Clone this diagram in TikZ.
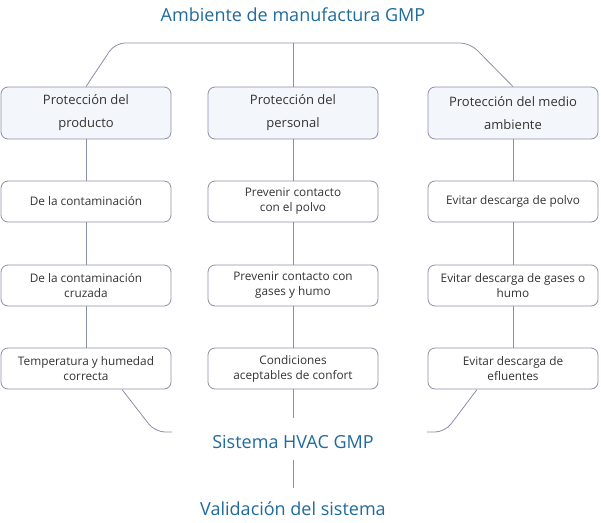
\documentclass[tikz,border=0pt]{standalone}
\usepackage{fontspec}
\setmainfont{Open Sans}
\definecolor{ln}{HTML}{8C8FA8}
\definecolor{hd}{HTML}{F3F6FA}
\definecolor{tb}{HTML}{1F6A9E}
\definecolor{tx}{HTML}{333333}
\begin{document}
\begin{tikzpicture}[x=1pt,y=-1pt,
  bx/.style={draw=ln,line width=0.8pt,rounded corners=7pt,minimum width=170pt,minimum height=41pt,inner sep=1pt,align=center,font=\fontsize{11.8}{15}\selectfont,text=tx},
  hbox/.style={bx,fill=hd,minimum height=52pt,font=\fontsize{13}{23}\selectfont},
  ttl/.style={text=tb,font=\fontsize{18}{20}\selectfont},
  cn/.style={draw=ln,line width=0.8pt}]
\useasboundingbox (0,0) rectangle (601,522);
\node[ttl] (top) at (293,15) {Ambiente de manufactura GMP};
\node[hbox] (h1) at (86,113) {Protección del\\producto};
\node[hbox] (h2) at (293,113) {Protección del\\personal};
\node[hbox] (h3) at (513,113) {Protección del medio\\ambiente};
\node[bx] (a1) at (86,201.5) {De la contaminación};
\node[bx] (a2) at (86,285.5) {De la contaminación\\cruzada};
\node[bx] (a3) at (86,368.5) {Temperatura y humedad\\correcta};
\node[bx] (b1) at (293,201.5) {Prevenir contacto\\con el polvo};
\node[bx] (b2) at (293,285.5) {Prevenir contacto con\\gases y humo};
\node[bx] (b3) at (293,368.5) {Condiciones\\aceptables de confort};
\node[bx] (c1) at (513,201.5) {Evitar descarga de polvo};
\node[bx] (c2) at (513,285.5) {Evitar descarga de gases o\\humo};
\node[bx] (c3) at (513,368.5) {Evitar descarga de\\efluentes};
\node[ttl] (hv) at (293,442) {Sistema HVAC GMP};
\node[ttl] (val) at (293,509) {Validación del sistema};
\draw[cn,rounded corners=10pt] (h1.north) -- (115,43) -- (470,43) -- (h3.north);
\draw[cn] (293,43) -- (h2.north);
\foreach \p/\q in {h1/a1,a1/a2,a2/a3,h2/b1,b1/b2,b2/b3,h3/c1,c1/c2,c2/c3}{\draw[cn] (\p) -- (\q);}
\draw[cn] (b3.south) -- (293,418);
\draw[cn] (293,460) -- (293,488);
\draw[cn,rounded corners=10pt] (122,389.5) -- (155,432) -- (172,432);
\draw[cn,rounded corners=10pt] (477,389.5) -- (445,432) -- (427,432);
\end{tikzpicture}
\end{document}
